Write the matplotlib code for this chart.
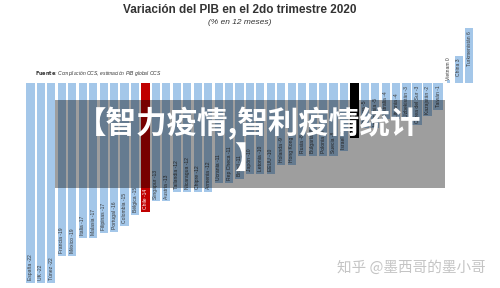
import matplotlib
matplotlib.use("Agg")
import matplotlib.pyplot as plt
from matplotlib.patches import Rectangle

# GDP change, Q2 2020 (% yoy)
countries = ["España", "UK", "Túnez", "Francia", "México", "Italia", "Malasia",
             "Filipinas", "Portugal", "Colombia", "Bélgica", "Chile", "Singapur",
             "Austria", "Tailandia", "Nicaragua", "Chipre", "Armenia", "Ucrania",
             "Rep Checa", "Brasil", "Japón", "Letonia", "EEUU", "Holanda",
             "Hong Kong", "Rusia", "Bulgaria", "Polonia", "Suecia", "Israel",
             "Mundo", "Noruega", "Indonesia", "Australia", "Lituania",
             "Uzbekistán", "Corea del Sur", "Kazajstán", "Taiwán", "Vietnam",
             "China", "Turkmenistán"]
labels = [-22, -22, -22, -19, -19, -17, -17, -17, -16, -15, -15, -14, -13,
          -13, -12, -12, -12, -12, -11, -11, -11, -10, -10, -10, -9, -9, -8,
          -8, -8, -8, -7, -6, -5, -5, -4, -4, -3, -3, -2, -1, 0, 3, 6]
values = [-22, -22, -22, -19, -19, -17, -17, -16.5, -16.4, -15.7, -14.5,
          -14.2, -13, -13, -12, -12, -12, -12, -11, -11, -10.5, -10, -10,
          -10, -9, -9, -8, -8, -8, -8, -7.5, -6, -5, -5, -4, -4, -3, -3,
          -2, -1, 0, 3, 6]
highlight = {"Chile": "#c00000", "Mundo": "#000000"}

blue = "#a4c7e9"
latin = ["Liberation Sans", "DejaVu Sans"]
cjk = ["Noto Sans CJK SC", "DejaVu Sans"]

fig = plt.figure(figsize=(5, 2.88), dpi=100)
ax = fig.add_axes([0, 0, 1, 1])
ax.set_xlim(-2.92, 44.93)
ax.set_ylim(-22.53, 9.12)
ax.axis("off")

x = list(range(len(countries)))
colors = [highlight.get(c, blue) for c in countries]
ax.bar(x, values, width=0.78, color=colors, linewidth=0)

for i, (c, lab, v) in enumerate(zip(countries, labels, values)):
    txt = f"{c} {lab}"
    fc = highlight.get(c, blue)
    tc = "white" if c in highlight else "#3a3a3a"
    if v > 0:
        ax.text(i, v - 0.3, txt, rotation=90, ha="center", va="top",
                fontsize=3.6, color=tc, family=latin)
    elif v == 0:
        ax.text(i, 0.3, txt, rotation=90, ha="center", va="bottom",
                fontsize=3.6, color=tc, family=latin)
        ax.bar(i, 0.3, width=0.3, color=blue, linewidth=0)
    elif v > -4:
        ax.text(i, -0.3, txt, rotation=90, ha="center", va="top",
                fontsize=3.6, color=tc, family=latin,
                bbox=dict(boxstyle="square,pad=0.45", fc=fc, ec="none"))
    else:
        ax.text(i, v + 0.3, txt, rotation=90, ha="center", va="bottom",
                fontsize=3.6, color=tc, family=latin)

# titles and source
fig.text(240 / 500, 1 - 10 / 288, "Variación del PIB en el 2do trimestre 2020",
         ha="center", va="center", fontsize=8.5, fontweight="bold",
         color="#333333", family=latin)
fig.text(240 / 500, 1 - 23 / 288, "(% en 12 meses)", ha="center", va="center",
         fontsize=6, style="italic", color="#333333", family=latin)
fig.text(35 / 500, 1 - 73 / 288, r"$\bf{Fuente}$: Compilación CCS, estimación PIB global CCS",
         ha="left", va="center", fontsize=3.6, style="italic", color="#333333",
         family=latin)

# dark overlay band with headline
fig.add_artist(Rectangle((55 / 500, 1 - 188 / 288), 390 / 500, 88 / 288,
                         transform=fig.transFigure, facecolor="black",
                         alpha=0.38, edgecolor="none"))
fig.text(249 / 500, 1 - 124 / 288, "【智力疫情,智利疫情统计", ha="center",
         va="center", fontsize=22, fontweight="bold", color="white", family=cjk)
fig.text(249 / 500, 1 - 159 / 288, "】", ha="center", va="center",
         fontsize=22, fontweight="bold", color="white", family=cjk)

# watermark
fig.text(411 / 500, 1 - 268 / 288, "知乎 @墨西哥的墨小哥", ha="center",
         va="center", fontsize=10.5, color="#c4c4c4", family=cjk)

fig.savefig("out.png", dpi=100)
